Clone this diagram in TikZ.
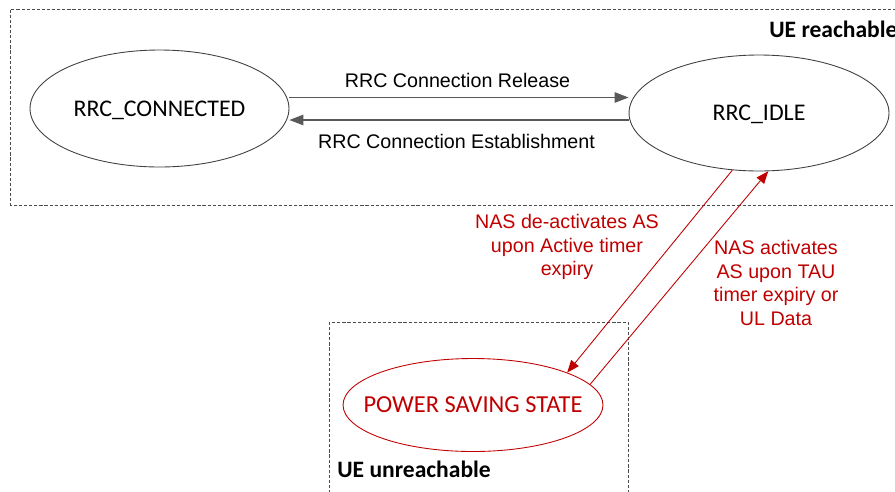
\documentclass[tikz,border=0pt]{standalone}
\usepackage{fontspec}
\setmainfont{Carlito}
\newfontfamily\arialfont{Liberation Sans}
\usetikzlibrary{arrows.meta,positioning,calc,shapes.geometric}
\definecolor{psmred}{HTML}{C00000}
\definecolor{flowgray}{HTML}{595959}

\begin{document}
\begin{tikzpicture}[
    x=0.02cm, y=-0.02cm,
    state/.style={ellipse, draw=black!75, line width=0.5pt, inner sep=0pt, text depth=0pt, font=\fontsize{13.6}{15}\selectfont},
    zone/.style={draw=black!70, line width=0.5pt, dash pattern=on 1.8pt off 1.1pt},
    flow/.style={draw=flowgray, line width=0.6pt, -{Triangle[length=8pt, width=6pt]}},
    nasflow/.style={draw=psmred, line width=0.5pt, -{Triangle[length=7pt, width=5.5pt]}},
    msg/.style={font=\arialfont\fontsize{11.2}{13}\selectfont, inner sep=0pt},
    nasmsg/.style={msg, text=psmred, align=center, font=\arialfont\fontsize{11.2}{13.6}\selectfont},
    zonetitle/.style={font=\bfseries\fontsize{13.4}{15}\selectfont, inner sep=0pt, anchor=base west}
  ]
    \useasboundingbox (0,0) rectangle (895,491);
    \clip (0,0) rectangle (895,491);
    % reachable / unreachable zones
    \draw[zone] (10.5,9.7) rectangle (905,205);
    \draw[zone] (329,322) rectangle (628,500);
    \node[zonetitle] (reach) at (769,37) {UE reachable};
    \node[zonetitle] (unreach) at (337,477) {UE unreachable};
    % RRC states
    \node[state, minimum width=5.18cm, minimum height=2.34cm] (conn) at (159.5,108.5) {RRC\_CONNECTED};
    \node[state, minimum width=5.2cm, minimum height=2.32cm] (idle) at (759,113) {RRC\_IDLE};
    \node[state, draw=psmred, minimum width=5.2cm, minimum height=1.86cm,
          label={[font=\fontsize{13.9}{15}\selectfont, text=psmred, text depth=0pt]center:POWER SAVING STATE}] (pss) at (473,405) {};
    % RRC transitions
    \draw[flow] ([yshift=0.22cm]conn.east) -- ([yshift=0.22cm]conn.east -| idle.west);
    \draw[flow] ([yshift=-0.23cm]conn.east -| idle.west) -- ([yshift=-0.23cm]conn.east);
    \node[msg, anchor=base] (rel) at (457.5,87) {RRC Connection Release};
    \node[msg, anchor=base] (est) at (456.5,148) {RRC Connection Establishment};
    % NAS transitions
    \draw[nasflow] (idle.245) -- (pss.19);
    \draw[nasflow] (pss.10) -- (idle.279);
    \node[nasmsg] (deact) at (567,247) {NAS de-activates AS\\upon Active timer\\expiry};
    \node[nasmsg] (act) at (776,283) {NAS activates\\AS upon TAU\\timer expiry or\\UL Data};
  \end{tikzpicture}
\end{document}
